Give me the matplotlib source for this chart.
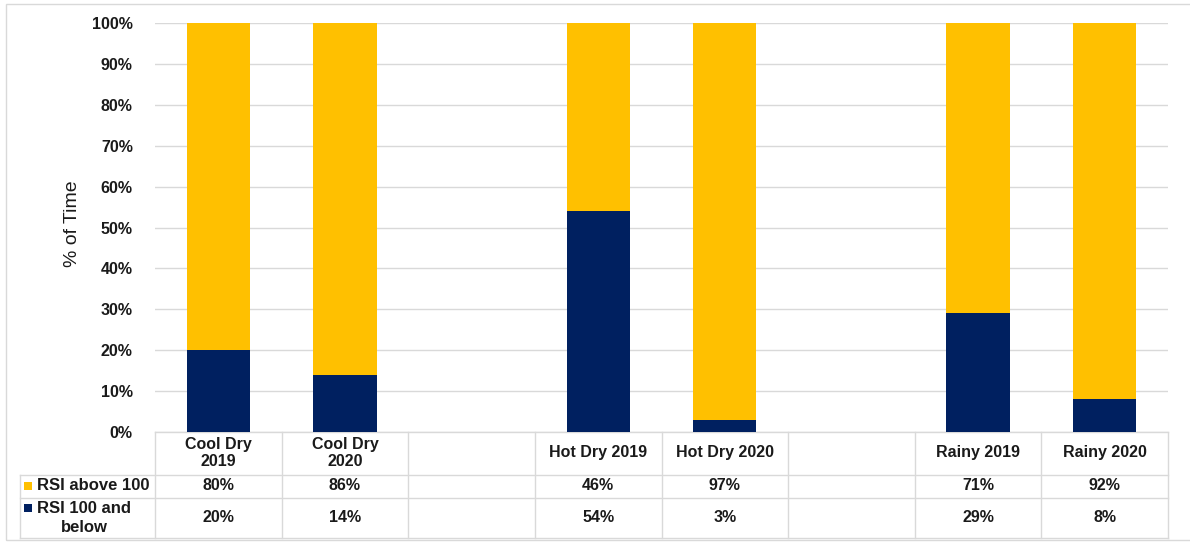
import matplotlib
matplotlib.use("Agg")
import matplotlib.pyplot as plt
from matplotlib.transforms import blended_transform_factory
from matplotlib.patches import Rectangle
from matplotlib.lines import Line2D

plt.rcParams['font.family'] = ['Liberation Sans', 'DejaVu Sans']

# Category slots (empty strings are spacer slots between seasons)
categories = ["Cool Dry\n2019", "Cool Dry\n2020", "", "Hot Dry 2019",
              "Hot Dry 2020", "", "Rainy 2019", "Rainy 2020"]
rsi_above_100 = [80, 86, None, 46, 97, None, 71, 92]
rsi_100_below = [20, 14, None, 54, 3, None, 29, 8]
series_names = ["RSI above 100", "RSI 100 and\nbelow"]
yticks = [0, 10, 20, 30, 40, 50, 60, 70, 80, 90, 100]

GOLD = "#FFC000"
NAVY = "#002060"
GRID = "#D9D9D9"
TXT = "#1A1A1A"

W, H = 1190, 543
fig = plt.figure(figsize=(W / 100, H / 100), dpi=100)

# plot area in pixel units
left, right, top, bottom = 155, 1168, 23, 432
ax = fig.add_axes([left / W, (H - bottom) / H, (right - left) / W, (bottom - top) / H])

xs = list(range(len(categories)))
for x, a, b in zip(xs, rsi_above_100, rsi_100_below):
    if a is None:
        continue
    ax.bar(x, b, width=0.5, color=NAVY, zorder=3)
    ax.bar(x, a, width=0.5, bottom=b, color=GOLD, zorder=3)

ax.set_xlim(-0.5, len(categories) - 0.5)
ax.set_ylim(0, 100)
ax.set_yticks(yticks)
ax.set_yticklabels([f"{v}%" for v in yticks], fontsize=11.5, fontweight="bold", color=TXT)
ax.tick_params(axis="y", length=0, pad=16)
ax.set_xticks([])
ax.yaxis.grid(True, color=GRID, linewidth=1, zorder=0)
for s in ax.spines.values():
    s.set_visible(False)
ax.set_ylabel("% of Time", fontsize=14, color=TXT)
ax.yaxis.set_label_coords(-(left - 81) / (right - left), (bottom - 224) / (bottom - top))

# data table below the plot: x in data units, y in figure pixels (top-down)
def py(p):
    return (H - p) / H

tr = blended_transform_factory(ax.transData, fig.transFigure)
trf = fig.transFigure
row_lines = [475, 498, 538]
tbl_bottom = 538
tbl_left_px = 20

# top line of the table (axis baseline)
ax.add_line(Line2D([-0.5, len(categories) - 0.5], [py(bottom)] * 2, transform=tr,
                   color=GRID, lw=1, clip_on=False))
for r in row_lines:
    fig.add_artist(Line2D([tbl_left_px / W, right / W], [py(r)] * 2, transform=trf,
                          color=GRID, lw=1))
for i in range(len(categories) + 1):
    ax.add_line(Line2D([i - 0.5] * 2, [py(bottom), py(tbl_bottom)], transform=tr,
                       color=GRID, lw=1, clip_on=False))
fig.add_artist(Line2D([tbl_left_px / W] * 2, [py(row_lines[0]), py(tbl_bottom)],
                      transform=trf, color=GRID, lw=1))

# header row and value rows
hdr_y, r1_y, r2_y = 453, 486, 518
for x, c, a, b in zip(xs, categories, rsi_above_100, rsi_100_below):
    if not c:
        continue
    ax.text(x, py(hdr_y), c, transform=tr, ha="center", va="center", fontsize=11.5,
            fontweight="bold", color=TXT, linespacing=1.25, clip_on=False)
    ax.text(x, py(r1_y), f"{a}%", transform=tr, ha="center", va="center", fontsize=11.5,
            fontweight="bold", color=TXT, clip_on=False)
    ax.text(x, py(r2_y), f"{b}%", transform=tr, ha="center", va="center", fontsize=11.5,
            fontweight="bold", color=TXT, clip_on=False)

# legend keys in the first column
for name, col, yc, ky in [(series_names[0], GOLD, r1_y, 486), (series_names[1], NAVY, r2_y, 508)]:
    fig.add_artist(Rectangle((24 / W, py(ky + 4)), 8 / W, 8 / H, transform=trf,
                             facecolor=col, edgecolor="none"))
    fig.text(37 / W, py(yc), name, ha="left", va="center", fontsize=12,
             fontweight="bold", color=TXT, multialignment="center", linespacing=1.3)

# chart area border
fig.add_artist(Rectangle((6 / W, py(540)), (W + 10) / W, (540 - 4) / H, transform=trf,
                         facecolor="none", edgecolor=GRID, lw=1))

fig.savefig("out.png", dpi=100)
